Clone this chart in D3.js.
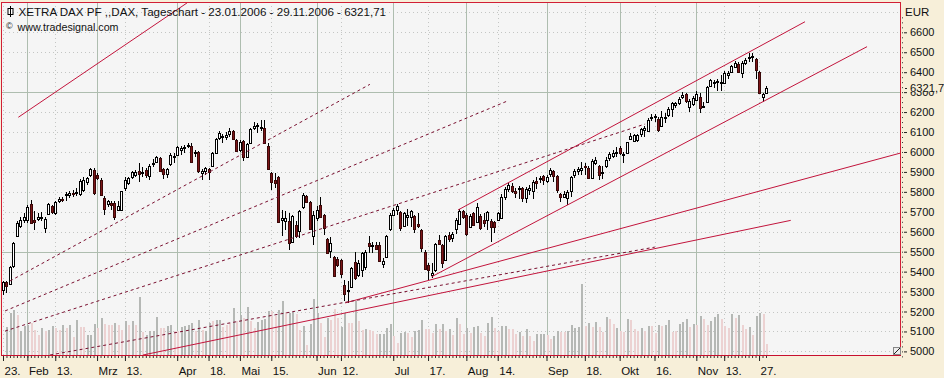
<!DOCTYPE html>
<html><head><meta charset="utf-8">
<style>html,body{margin:0;padding:0;background:#f7efd9;overflow:hidden}svg{display:block}text{font-family:"Liberation Sans",Arial,sans-serif;fill:#111}</style>
<script src="https://cdn.jsdelivr.net/npm/d3@7"></script></head><body><svg id="c" width="944" height="378"></svg>
<script>
const opens=[5309,5346,5337,5426,5580,5630,5660,5660,5739,5660,5665,5668,5618,5690,5727,5694,5755,5765,5782,5786,5794,5792,5789,5809,5851,5884,5909,5884,5859,5769,5740,5744,5744,5710,5710,5817,5842,5876,5884,5903,5893,5909,5881,5939,5948,5971,5913,5889,5938,5973,5984,6010,6018,6030,6030,5993,6001,5893,5906,5913,5931,5996,6068,6073,6076,6088,6105,6060,6010,6055,5976,6043,6122,6130,6118,6118,6030,5896,5859,5872,5657,5652,5652,5551,5632,5602,5722,5777,5749,5577,5669,5734,5684,5562,5505,5475,5461,5458,5331,5301,5324,5450,5383,5408,5424,5545,5528,5536,5533,5436,5475,5612,5684,5709,5697,5628,5675,5675,5679,5637,5608,5500,5433,5383,5408,5558,5533,5458,5583,5567,5612,5638,5704,5684,5625,5692,5650,5680,5658,5658,5655,5647,5658,5667,5776,5814,5829,5804,5812,5817,5767,5809,5806,5854,5863,5879,5856,5889,5903,5881,5787,5774,5771,5804,5884,5904,5909,5929,5918,5871,5946,5929,5896,5929,5968,5980,5993,6018,5985,5993,6063,6055,6060,6088,6110,6107,6172,6173,6165,6132,6168,6185,6215,6235,6244,6277,6289,6224,6239,6260,6274,6232,6249,6331,6344,6352,6347,6347,6387,6402,6428,6441,6394,6448,6469,6474,6466,6399,6277,6297];
const highs=[5354,5354,5426,5551,5652,5672,5694,5735,5757,5702,5694,5699,5672,5744,5735,5752,5772,5772,5799,5806,5811,5819,5862,5876,5876,5918,5918,5893,5867,5777,5760,5752,5755,5752,5806,5876,5876,5906,5909,5943,5926,5918,5938,5963,5979,5976,5921,5921,5993,5993,6031,6030,6035,6046,6046,6010,6006,5913,5926,5918,5998,6070,6105,6090,6102,6118,6110,6063,6060,6060,6043,6118,6152,6147,6160,6160,6043,5901,5893,5879,5710,5702,5694,5685,5652,5710,5794,5786,5755,5702,5727,5776,5689,5567,5575,5478,5475,5461,5360,5351,5424,5500,5458,5500,5508,5578,5550,5550,5550,5466,5585,5692,5717,5739,5704,5700,5712,5709,5684,5695,5612,5508,5441,5441,5545,5583,5541,5583,5600,5597,5667,5712,5709,5692,5689,5700,5742,5687,5692,5705,5662,5655,5697,5789,5826,5842,5846,5817,5829,5826,5822,5834,5859,5876,5879,5884,5884,5918,5909,5884,5796,5806,5809,5879,5913,5926,5951,5943,5929,5963,5973,5934,5929,5976,6001,6010,6026,6030,6001,6052,6097,6090,6090,6118,6130,6168,6190,6190,6173,6207,6194,6224,6252,6252,6274,6302,6297,6264,6280,6307,6294,6252,6332,6366,6361,6364,6386,6408,6408,6436,6456,6449,6456,6469,6494,6498,6471,6406,6297,6331];
const lows=[5284,5292,5334,5418,5577,5618,5643,5643,5638,5610,5652,5652,5593,5689,5689,5682,5744,5749,5752,5769,5772,5777,5777,5801,5834,5876,5786,5859,5777,5685,5722,5710,5660,5702,5705,5806,5834,5862,5876,5851,5876,5867,5859,5923,5943,5901,5862,5867,5931,5943,5979,5984,5993,6018,5943,5976,5893,5859,5884,5859,5926,5993,6060,6043,6060,6076,6060,6000,6001,5956,5968,6040,6110,6097,6107,6038,5909,5809,5817,5643,5577,5610,5510,5543,5568,5568,5715,5744,5610,5531,5652,5672,5583,5491,5466,5374,5424,5366,5251,5243,5316,5358,5374,5374,5408,5495,5495,5508,5450,5416,5471,5605,5679,5684,5605,5622,5628,5625,5592,5617,5500,5408,5358,5366,5399,5533,5420,5453,5550,5550,5588,5633,5662,5578,5617,5628,5642,5608,5622,5608,5550,5595,5654,5662,5759,5801,5792,5767,5762,5750,5742,5784,5762,5812,5846,5834,5842,5873,5851,5796,5750,5767,5734,5772,5871,5884,5884,5884,5864,5866,5934,5859,5863,5918,5956,5968,5976,5985,5943,5990,6060,6051,6051,6076,6076,6102,6157,6152,6100,6127,6143,6177,6177,6219,6235,6264,6247,6202,6230,6255,6197,6219,6244,6324,6319,6307,6307,6344,6364,6397,6419,6394,6369,6436,6453,6453,6364,6290,6252,6294];
const closes=[5346,5329,5423,5546,5643,5660,5674,5724,5643,5648,5672,5675,5663,5740,5697,5749,5762,5759,5789,5792,5789,5799,5854,5859,5867,5913,5792,5867,5782,5715,5752,5732,5672,5727,5802,5859,5867,5898,5901,5889,5898,5884,5931,5946,5973,5904,5889,5914,5986,5979,6026,6018,6026,6035,5948,5998,5906,5906,5918,5901,5993,6063,6093,6080,6085,6105,6063,6005,6051,5976,6038,6113,6132,6135,6123,6043,5913,5851,5846,5647,5669,5669,5543,5677,5577,5702,5786,5749,5615,5685,5710,5675,5617,5495,5542,5379,5433,5388,5288,5309,5416,5366,5441,5491,5500,5530,5536,5513,5455,5453,5578,5684,5709,5729,5617,5692,5684,5704,5612,5630,5520,5413,5408,5394,5538,5538,5445,5578,5562,5588,5658,5705,5675,5588,5679,5633,5722,5617,5645,5697,5625,5625,5692,5772,5814,5834,5806,5792,5817,5771,5812,5817,5851,5842,5868,5859,5873,5909,5881,5809,5772,5789,5797,5873,5903,5913,5918,5923,5871,5954,5960,5884,5901,5960,5988,5993,6001,5993,5990,6048,6080,6085,6085,6113,6118,6160,6177,6180,6110,6177,6177,6215,6244,6244,6264,6284,6257,6257,6269,6289,6222,6232,6327,6361,6349,6357,6352,6397,6397,6431,6448,6402,6448,6461,6478,6481,6411,6294,6289,6322];
const volumes=[0,83,126,136,121,71,86,91,96,76,61,81,73,76,86,81,76,89,81,91,53,106,84,83,61,59,93,81,111,93,91,89,96,91,76,101,91,101,91,174,69,61,71,73,113,81,81,86,89,71,71,83,86,89,96,71,105,76,71,96,101,106,104,83,91,96,141,101,121,111,144,101,81,99,104,109,133,131,116,136,161,129,126,129,123,76,86,31,93,168,126,95,54,112,104,137,112,85,127,97,97,162,102,74,77,74,72,64,64,62,82,94,57,37,67,70,67,54,72,74,104,77,77,67,94,77,94,72,77,60,112,94,64,82,67,84,87,67,57,97,114,80,72,87,87,77,77,62,70,57,79,57,42,64,64,64,60,47,57,72,69,70,72,90,82,84,212,87,97,84,100,84,70,114,107,92,80,72,70,109,104,79,71,81,71,88,86,66,89,86,89,104,69,73,93,99,108,84,93,91,116,109,91,101,114,123,109,88,81,123,111,119,89,79,84,61,116,126,123,33];
const volumeGrey=[1,1,1,1,0,1,1,1,0,0,0,1,0,1,1,0,0,1,0,1,0,1,0,0,1,1,1,0,1,0,0,0,1,0,0,1,0,1,0,1,0,1,1,1,1,0,0,1,1,0,0,1,1,1,1,0,1,0,1,1,0,1,1,0,0,0,1,0,1,0,1,0,0,1,1,1,1,0,0,1,1,0,1,1,0,0,1,0,1,1,1,0,0,1,0,0,0,1,1,0,0,1,0,0,1,0,0,0,1,1,1,1,0,0,1,1,0,0,1,1,1,0,0,0,1,0,1,0,1,0,1,0,0,1,0,1,1,0,0,1,1,0,0,1,1,0,0,0,1,0,1,0,0,1,1,1,0,0,1,1,0,0,1,1,1,1,1,0,1,0,1,0,0,1,0,0,1,0,0,1,0,0,0,1,0,1,0,0,1,0,1,1,0,0,1,1,1,0,1,0,1,0,0,1,1,1,0,0,0,1,0,1,0,0,1,0,1,1,0,0];
const tickIndex=[0,7,15,27,35,50,59,68,77,90,97,112,122,133,142,156,167,177,187,199,207,217];
const tickLabel=["23.","Feb","13.","Mrz","13.","Apr","18.","Mai","15.","Jun","12.","Jul","17.","Aug","14.","Sep","18.","Okt","16.","Nov","13.","27."];
const priceTicks=[6600,6500,6400,6300,6200,6100,6000,5900,5800,5700,5600,5500,5400,5300,5200,5100,5000];
const majorPrices=[6300,5500];
const lastPrice=6321.7;
const solidLines=[[4.4,6174,52.8,6747],[130.6,5709,230.2,6653],[123,5374,248,6528],[98.2,5243,257.7,5995],[40.2,4982,226.1,5657]];
const dashedLines=[[2,5353,105.3,6339],[0.6,5203,144.7,6255],[0.6,5102,184.3,6140],[13.5,4982,187.1,5523]];
const title="XETRA DAX PF ,,DAX, Tageschart - 23.01.2006 - 29.11.2006 - 6321,71";
const credit="www.tradesignal.com";

const L=1,T=2,R=901,B=355;
const svg=d3.select("#c");
const x=d3.scaleLinear().domain([0,219]).range([3,766]);
const y=d3.scaleLinear().domain([5000,6600]).range([351.4,32.3]);
const yv=d3.scaleLinear().domain([0,600]).range([355,155]);
const px=v=>Math.round(v)+.5;
svg.append("defs").append("clipPath").attr("id","p").append("rect").attr("x",L).attr("y",T).attr("width",R-L).attr("height",B-T);
svg.append("rect").attr("x",L).attr("y",T).attr("width",R-L).attr("height",B-T).attr("fill","#f5f5f5");
const g=svg.append("g").attr("clip-path","url(#p)");
const gridCol="#aebdaf",dotCol="#c4c6c4";
g.selectAll(".h").data(d3.range(5000,6701,100)).join("line").attr("x1",L).attr("x2",R)
 .attr("y1",d=>px(y(d))).attr("y2",d=>px(y(d)))
 .attr("stroke",d=>majorPrices.includes(d)?gridCol:dotCol)
 .attr("stroke-dasharray",d=>majorPrices.includes(d)?null:"1,3");
g.selectAll(".v").data(tickIndex.map((d,i)=>({d,l:tickLabel[i]}))).join("line")
 .attr("x1",d=>px(x(d.d))).attr("x2",d=>px(x(d.d))).attr("y1",T).attr("y2",B)
 .attr("stroke",d=>/[A-Z]/.test(d.l)?gridCol:dotCol)
 .attr("stroke-dasharray",d=>/[A-Z]/.test(d.l)?null:"1,3");
g.selectAll(".vol").data(volumes).join("rect").attr("x",(d,i)=>Math.round(x(i))).attr("width",2)
 .attr("y",d=>Math.round(yv(d))).attr("height",d=>B-Math.round(yv(d)))
 .attr("fill",(d,i)=>volumeGrey[i]?"#b5b8b5":"#ecd2d2");
const c=g.selectAll(".cd").data(closes).join("g");
c.append("line").attr("x1",(d,i)=>px(x(i))).attr("x2",(d,i)=>px(x(i)))
 .attr("y1",(d,i)=>Math.round(y(highs[i]))).attr("y2",(d,i)=>Math.round(y(lows[i]))).attr("stroke","#000");
c.append("rect").attr("x",(d,i)=>Math.round(x(i))-.5).attr("width",2)
 .attr("y",(d,i)=>px(y(Math.max(opens[i],closes[i])))).attr("height",(d,i)=>Math.max(1,px(y(Math.min(opens[i],closes[i])))-px(y(Math.max(opens[i],closes[i])))))
 .attr("fill",(d,i)=>closes[i]>=opens[i]?"#fff":"#7d1518").attr("stroke",(d,i)=>closes[i]>=opens[i]?"#000":"#3a0808");
g.selectAll(".s").data(solidLines).join("line").attr("x1",d=>x(d[0])).attr("y1",d=>y(d[1])).attr("x2",d=>x(d[2])).attr("y2",d=>y(d[3]))
 .attr("stroke","#c2143c").attr("stroke-width",1);
g.selectAll(".d").data(dashedLines).join("line").attr("x1",d=>x(d[0])).attr("y1",d=>y(d[1])).attr("x2",d=>x(d[2])).attr("y2",d=>y(d[3]))
 .attr("stroke","#7a1030").attr("stroke-width",1).attr("stroke-dasharray","3,3");
svg.append("rect").attr("x",L+.5).attr("y",T+.5).attr("width",R-L-1).attr("height",B-T).attr("fill","none").attr("stroke","#d11f35");
svg.append("line").attr("x1",L).attr("x2",R).attr("y1",355.5).attr("y2",355.5).attr("stroke","#c8102e").attr("stroke-width",1);
const ax=d3.axisBottom(x).tickValues(d3.range(0,220)).tickSize(2).tickFormat("");
const gx=svg.append("g").attr("transform","translate(0,356)").call(ax);
gx.select(".domain").remove();gx.selectAll("line").attr("stroke","#333");
const ax2=d3.axisBottom(x).tickValues(tickIndex).tickSize(5).tickFormat((d,i)=>tickLabel[i]);
const gx2=svg.append("g").attr("transform","translate(0,356)").call(ax2);
gx2.select(".domain").remove();gx2.selectAll("line").attr("stroke","#222");
gx2.selectAll("text").attr("text-anchor","start").attr("dx",1).attr("y",11).style("font-size","11.5px").style("font-family","'Liberation Sans'").attr("fill","#111");
const gmin=svg.append("g").attr("transform","translate(902,0)").call(d3.axisRight(y).tickValues(d3.range(4975,6676,25)).tickSize(1).tickFormat(""));
gmin.select(".domain").remove();gmin.selectAll("line").attr("stroke","#333");
const gy=svg.append("g").attr("transform","translate(904,0)").call(d3.axisRight(y).tickValues(priceTicks).tickSize(3).tickPadding(3).tickFormat(d3.format("d")));
gy.select(".domain").remove();gy.selectAll("line").attr("stroke","#222");
gy.selectAll("text").style("font-size","11px").style("font-family","'Liberation Sans'").attr("fill","#111");
svg.append("text").attr("x",905).attr("y",16).style("font-size","11.5px").text("EUR");
svg.append("rect").attr("x",909).attr("y",y(lastPrice)-5).attr("width",33).attr("height",9).attr("fill","#f7efd9");
svg.append("line").attr("x1",905).attr("x2",907).attr("y1",px(y(lastPrice))).attr("y2",px(y(lastPrice))).attr("stroke","#222");
svg.append("text").attr("x",910).attr("y",y(lastPrice)+4).style("font-size","11.2px").text(d3.format(".1f")(lastPrice).replace(".",","));
svg.append("rect").attr("x",8).attr("y",8.5).attr("width",5).attr("height",6).attr("fill","#fff").attr("stroke","#000");
svg.append("line").attr("x1",10.5).attr("x2",10.5).attr("y1",6).attr("y2",17).attr("stroke","#000");
svg.append("text").attr("x",18.5).attr("y",16).style("font-size","11.6px").text(title);
svg.append("text").attr("x",6).attr("y",28.5).style("font-size","9px").text("©");
svg.append("text").attr("x",17.5).attr("y",31).style("font-size","10.7px").text(credit);
svg.append("rect").attr("x",893.5).attr("y",347.5).attr("width",7).attr("height",7).attr("fill","#eee").attr("stroke","#888");
svg.append("line").attr("x1",894).attr("x2",900).attr("y1",354).attr("y2",348).attr("stroke","#222");
</script></body></html>
